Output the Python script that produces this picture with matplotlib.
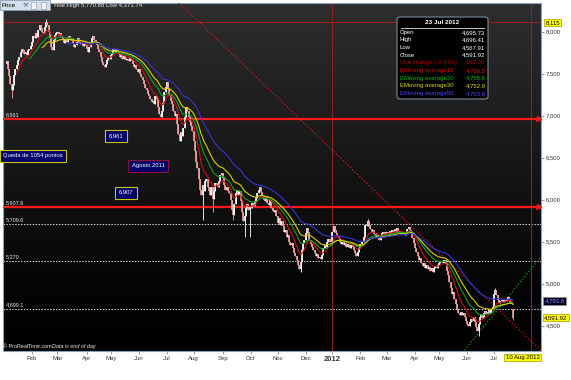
import matplotlib
matplotlib.use("Agg")
import matplotlib.pyplot as plt
from matplotlib.colors import LinearSegmentedColormap
from matplotlib.lines import Line2D
from matplotlib.patches import FancyBboxPatch, Rectangle
import numpy as np
import pandas as pd

plt.rcParams["font.family"] = ["Liberation Sans", "DejaVu Sans"]

W, H = 571, 380

# PSI 20 daily closes, one month at a time
jan11 = [7620, 7650, 7560, 7470, 7380, 7300, 7360, 7480, 7560, 7600, 7660,
         7700, 7760, 7800, 7780, 7740, 7760, 7720, 7780, 7800, 7830]
feb11 = [7880, 7950, 7920, 7980, 7940, 8020, 8080, 8040, 8000, 7980, 8060,
         8120, 8080, 8000, 7920, 7820, 7780, 7900, 7960, 7990]
mar11 = [8000, 7970, 7990, 7940, 7900, 7870, 7910, 7880, 7930, 7950, 7900,
         7920, 7860, 7820, 7840, 7880, 7930, 7900, 7850, 7870, 7830, 7860, 7840]
apr11 = [7800, 7760, 7820, 7880, 7920, 7950, 7900, 7860, 7840, 7800, 7760,
         7700, 7640, 7600, 7580, 7620, 7660, 7700, 7680]
may11 = [7720, 7750, 7790, 7760, 7800, 7770, 7740, 7700, 7720, 7680, 7710,
         7690, 7660, 7680, 7650, 7690, 7660, 7620, 7580, 7600, 7550, 7520]
jun11 = [7560, 7500, 7460, 7420, 7380, 7330, 7300, 7260, 7230, 7200, 7160,
         7180, 7140, 7230, 7200, 7100, 7020, 6980, 7050, 7150, 7280, 7340]
jul11 = [7400, 7320, 7250, 7180, 7140, 7060, 7000, 7020, 6900, 6780, 6700,
         6800, 6760, 6850, 6980, 7100, 7050, 6980, 6920, 6880, 6820]
aug11 = [6700, 6580, 6450, 6380, 6250, 6120, 6050, 6180, 6100, 6220, 6250,
         6150, 6100, 6050, 6150, 6010, 6100, 6200, 6180, 6150, 6220, 6290, 6320]
sep11 = [6260, 6180, 6120, 6150, 6100, 6080, 6000, 5880, 5820, 5950, 6080,
         6120, 6050, 6100, 5980, 5850, 5740, 5800, 5900, 5950, 5880, 5920]
oct11 = [5900, 5960, 5930, 5980, 6020, 6080, 6120, 6150, 6090, 6040, 6000,
         5980, 6030, 5960, 5940, 6000, 5900, 5870, 5850, 5880, 5800]
nov11 = [5720, 5780, 5700, 5740, 5680, 5620, 5640, 5560, 5580, 5500, 5460,
         5480, 5420, 5360, 5330, 5280, 5220, 5170, 5260, 5400, 5480, 5520]
dec11 = [5600, 5660, 5620, 5520, 5470, 5440, 5400, 5360, 5330, 5350, 5300,
         5320, 5290, 5340, 5420, 5460, 5440, 5500, 5530, 5500, 5494]
jan12 = [5620, 5680, 5640, 5600, 5570, 5540, 5500, 5470, 5500, 5460, 5480,
         5440, 5470, 5450, 5420, 5460, 5430, 5400, 5360, 5330, 5380, 5420]
feb12 = [5470, 5500, 5490, 5560, 5700, 5680, 5740, 5700, 5650, 5620, 5640,
         5590, 5560, 5580, 5540, 5520, 5560, 5600, 5620, 5590, 5610]
mar12 = [5620, 5590, 5630, 5600, 5640, 5610, 5650, 5620, 5660, 5630, 5600,
         5620, 5590, 5610, 5580, 5620, 5650, 5670, 5640, 5600, 5540, 5480]
apr12 = [5420, 5380, 5330, 5280, 5300, 5250, 5210, 5240, 5190, 5220, 5170,
         5200, 5150, 5180, 5140, 5190, 5210, 5180, 5220]
may12 = [5240, 5260, 5270, 5250, 5280, 5230, 5150, 5100, 5020, 4950, 4880,
         4900, 4820, 4760, 4700, 4650, 4620, 4660, 4630, 4650, 4600, 4560]
jun12 = [4520, 4500, 4540, 4580, 4560, 4600, 4540, 4480, 4440, 4520, 4600,
         4630, 4590, 4650, 4670, 4640, 4660, 4680, 4650, 4700, 4720]
jul12 = [4880, 4920, 4860, 4800, 4770, 4790, 4810, 4780, 4800, 4790, 4820,
         4840, 4800, 4780, 4754.22, 4591.92]

month_closes = [jan11, feb11, mar11, apr11, may11, jun11, jul11, aug11, sep11,
                oct11, nov11, dec11, jan12, feb12, mar12, apr12, may12, jun12, jul12]
month_labels = ["", "Feb", "Mar", "Apr", "May", "Jun", "Jul", "Aug", "Sep", "Oct",
                "Nov", "Dec", "2012", "Feb", "Mar", "Apr", "May", "Jun", "Jul"]

# wicks that stick out of the band (trading-day index -> price)
wick_lows = {5: 7214, 155: 5760, 163: 5850, 179: 5760, 188: 5550, 192: 5560,
             232: 5140, 372: 4372}
wick_highs = {32: 8150, 285: 5771, 385: 4950}

last_bar = {"date": "23 Jul 2012", "open": 4695.73, "high": 4696.41,
            "low": 4567.91, "close": 4591.92}
unit_change = (-162.30, -3.41)

ema_spans = [10, 20, 30, 50]
ema_colors = ["#d01010", "#12a020", "#d4d400", "#3434d0"]
ema_text_colors = ["#e00000", "#00c000", "#e0e000", "#4848ff"]
tooltip_ema = [4769.5, 4758.6, 4752.9, 4793.8]

red_levels = [6961, 5907.6]
dotted_levels = [5709.6, 5270, 4699.1]
top_level = 8115
year_high, year_low = 5770.88, 4371.74

# hand drawn trend lines, (trading day, price) end points
down_trend = [(136.5, 8345), (421, 4200)]
up_trend = [(361, 4210), (421, 5320)]
cursor_days = 14  # 10 Aug 2012, trading days after the last bar

notes = [("6.961", 116, 136, "#c8c800"),
         ("Queda de 1054 pontos", 33, 156, "#c8c800"),
         ("Agosto 2011", 148, 166, "#8c1030"),
         ("6.907", 126, 193, "#c8c800")]


def fpos(px, py):
    return px / W, 1 - py / H


closes = np.concatenate([np.asarray(m, float) for m in month_closes])
n = len(closes)
idx = np.arange(n)
month_start = np.cumsum([0] + [len(m) for m in month_closes[:-1]])

opens = np.r_[closes[0], closes[:-1]]
opens[-1] = last_bar["open"]
highs = np.maximum(opens, closes)
lows = np.minimum(opens, closes)
for k, v in wick_lows.items():
    lows[k] = min(lows[k], v)
for k, v in wick_highs.items():
    highs[k] = max(highs[k], v)
highs[-1], lows[-1] = last_bar["high"], last_bar["low"]

fig = plt.figure(figsize=(W / 100, H / 100), dpi=100)
ax = fig.add_axes([3 / W, 1 - 351 / H, 538 / W, 348.5 / H])
x0, x1 = -1.8, 421
y0, y1 = 4197, 8348

cmap = LinearSegmentedColormap.from_list(
    "bg", [(0, "#000000"), (0.2, "#050505"), (1, "#2e2e2e")])
ax.imshow(np.linspace(0, 1, 256).reshape(-1, 1), extent=[x0, x1, y0, y1],
          origin="lower", aspect="auto", cmap=cmap, zorder=0)

# levels and lines
ax.axhline(top_level, color="#9a2020", lw=0.8, zorder=2)
for lv in red_levels:
    ax.axhline(lv, color="#ff1a1a", lw=1.6, zorder=3)
    ax.plot([x1 - 1.8], [lv], marker=">", ms=3.6, mfc="none", mec="#ff1a1a",
            mew=0.8, zorder=6)
for lv in dotted_levels:
    ax.axhline(lv, color="#d8d8d8", lw=0.7, ls=(0, (1.5, 1.5)), zorder=2)
for lv in red_levels + dotted_levels:
    ax.annotate(format(lv, ",g"), xy=(x0, lv), xytext=(2, 1.2),
                textcoords="offset points", color="#e8e8e8", fontsize=4,
                va="bottom", zorder=7)
ax.axvline(month_start[12], color="#8b2020", lw=0.8, zorder=2)
ax.axvline(n - 1 + cursor_days, color="#8b2020", lw=0.8, zorder=2)
ax.plot(*zip(*down_trend), color="#d01818", lw=0.9, ls=(0, (1, 1.6)), zorder=3)
ax.plot(*zip(*up_trend), color="#129a12", lw=0.9, ls=(0, (1, 1.6)), zorder=3)

# candles
col = np.where(closes >= opens, "#ffffff", "#f4a4a4")
ax.vlines(idx, lows, highs, colors=col, lw=0.6, zorder=4)
ax.vlines(idx, np.minimum(opens, closes), np.maximum(opens, closes),
          colors=col, lw=1.2, zorder=4)

# exponential moving averages
for span, c in zip(ema_spans, ema_colors):
    ema = pd.Series(closes).ewm(span=span, adjust=False).mean()
    ema[:span - 1] = np.nan
    ax.plot(idx, ema, color=c, lw=0.8, zorder=5)

ax.set_xlim(x0, x1)
ax.set_ylim(y0, y1)
ax.yaxis.tick_right()
yt = list(range(4500, 8001, 500))
ax.set_yticks(yt, [f"{v:,}" for v in yt])
ax.set_xticks(month_start[1:], month_labels[1:])
ax.tick_params(labelsize=4.3, length=2, pad=1.5, color="#8ca0b8",
               labelcolor="#333333")
for lab in ax.get_xticklabels():
    if lab.get_text() == "2012":
        lab.set_fontweight("bold")
        lab.set_fontsize(5.5)
for s in ax.spines.values():
    s.set_color("#8ca0b8")
    s.set_linewidth(0.8)

# annotation boxes
for txt, px, py, ec in notes:
    fig.text(*fpos(px, py), txt, ha="center", va="center", color="white",
             fontsize=4.2, bbox=dict(boxstyle="square,pad=0.55", fc="#00006a",
                                     ec=ec, lw=0.8))

# tooltip
fig.patches.append(FancyBboxPatch(
    (397 / W, 1 - 99 / H), 91 / W, 82 / H, transform=fig.transFigure,
    boxstyle="round,pad=0,rounding_size=0.006", fc="#000000", ec="#7a8a9a",
    lw=0.8, zorder=8))
fig.text(*fpos(442.5, 22.5), last_bar["date"], ha="center", va="center",
         color="white", fontsize=4.6, fontweight="bold", zorder=9)
fig.add_artist(Line2D([401 / W, 484 / W], [1 - 27.5 / H] * 2, color="#e0e0e0",
                      lw=0.6, zorder=9))
rows = [("Open", f"{last_bar['open']:,.2f}", "white"),
        ("High", f"{last_bar['high']:,.2f}", "white"),
        ("Low", f"{last_bar['low']:,.2f}", "white"),
        ("Close", f"{last_bar['close']:,.2f}", "white"),
        (f"Unit change ({unit_change[1]:.2f}%)", f"{unit_change[0]:.2f}", "#b80000")]
rows += [(f"EMoving average{s}", f"{v:,.1f}", c)
         for s, v, c in zip(ema_spans, tooltip_ema, ema_text_colors)]
for k, (lab, val, c) in enumerate(rows):
    yy = 32.3 + k * 7.65
    fig.text(*fpos(400, yy), lab, ha="left", va="center", color=c, fontsize=4.3, zorder=9)
    fig.text(*fpos(485.5, yy), val, ha="right", va="center", color=c, fontsize=4.3, zorder=9)

# price flags on the right axis and cursor date
fig.text(*fpos(552.5, 22.7), f"{top_level:,}", ha="center", va="center",
         fontsize=4.3, color="black",
         bbox=dict(boxstyle="square,pad=0.2", fc="#ffff00", ec="#a0a000", lw=0.5))
fig.text(*fpos(554.5, 301), f"{tooltip_ema[3]:,.1f}", ha="center", va="center",
         fontsize=4.3, color="#8c8cff",
         bbox=dict(boxstyle="square,pad=0.25", fc="#000020", ec="#909090", lw=0.5))
fig.text(*fpos(556, 317.5), f"{last_bar['close']:,.2f}", ha="center", va="center",
         fontsize=4.3, color="black",
         bbox=dict(boxstyle="square,pad=0.2", fc="#ffff00", ec="#a0a000", lw=0.5))
fig.text(*fpos(522.5, 357.5), "10 Aug 2012", ha="center", va="center",
         fontsize=4.3, color="black",
         bbox=dict(boxstyle="square,pad=0.2", fc="#ffff00", ec="#a0a000", lw=0.5))

# header tab
fig.patches.append(Rectangle((0, 1 - 10 / H), 50 / W, 10 / H, transform=fig.transFigure,
                             fc="#d2deea", ec="#8ca0b8", lw=0.6, zorder=8))
for bx in (31, 41):
    fig.patches.append(Rectangle((bx / W, 1 - 8.5 / H), 5 / W, 6 / H,
                                 transform=fig.transFigure, fc="#eef2f6",
                                 ec="#9aaabb", lw=0.5, zorder=9))
fig.text(*fpos(2, 5.5), "Price", ha="left", va="center", fontsize=4.5,
         color="black", zorder=9)
fig.text(*fpos(23, 5.5), "\u2692", ha="left", va="center", fontsize=4.5,
         color="#5070a0", family="DejaVu Sans", zorder=9)
fig.text(*fpos(53, 5.8), f"Year:High {year_high:,.2f} Low {year_low:,.2f}",
         ha="left", va="center", fontsize=4.3, color="#e8e8e8", zorder=9)

fig.text(*fpos(3, 346.5), "\u00a9 ProRealTime.com", ha="left", va="center",
         fontsize=3.9, color="#e8e8e8", zorder=9)
fig.text(*fpos(52, 346.5), "Data is end of day", ha="left", va="center",
         fontsize=3.9, color="#e8e8e8", style="italic", zorder=9)

fig.savefig("out.png", dpi=100)
